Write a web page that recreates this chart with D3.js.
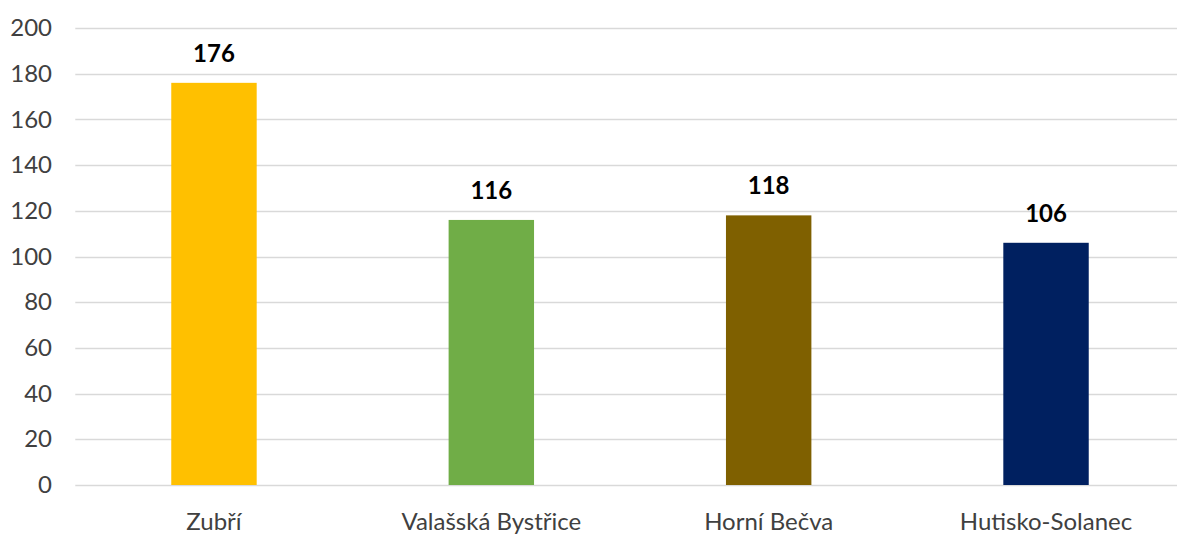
<!DOCTYPE html>
<html><head><meta charset="utf-8">
<script src="https://cdn.jsdelivr.net/npm/d3@7"></script>
<style>
html,body{margin:0;padding:0;background:#fff;}
svg{display:block;}
</style></head>
<body>
<svg id="c" width="1177" height="534"></svg>
<script>
const categories = ["Zubří", "Valašská Bystřice", "Horní Bečva", "Hutisko-Solanec"];
const values = [176, 116, 118, 106];
const colors = ["#FFC000", "#70AD47", "#7F6000", "#002060"];
const yTicks = [0, 20, 40, 60, 80, 100, 120, 140, 160, 180, 200];

const svg = d3.select("#c");
const font = "Lato, 'Open Sans', sans-serif";

const x = d3.scaleBand().domain(categories).range([75.3, 1184.7]).paddingInner(0.692).paddingOuter(0.346);
const y = d3.scaleLinear().domain([0, 200]).range([485, 28]);

// gridlines
svg.append("g").selectAll("line").data(yTicks).join("line")
  .attr("x1", 75.3).attr("x2", 1184.7)
  .attr("y1", d => Math.round(y(d)) + 0.5).attr("y2", d => Math.round(y(d)) + 0.5)
  .attr("stroke", "#D9D9D9").attr("stroke-width", 1.3);

// y axis labels
const yAxis = d3.axisLeft(y).tickValues(yTicks).tickSize(0).tickPadding(0).tickFormat(d3.format("d"));
const gy = svg.append("g").attr("transform", "translate(52,0)").call(yAxis);
gy.select(".domain").remove();
gy.selectAll("text").attr("font-family", font).attr("font-size", 24).attr("fill", "#404040");

// bars
svg.append("g").selectAll("rect").data(values).join("rect")
  .attr("x", (d, i) => x(categories[i]))
  .attr("width", x.bandwidth())
  .attr("y", d => y(d))
  .attr("height", d => y(0) - y(d))
  .attr("fill", (d, i) => colors[i]);

// data labels
svg.append("g").selectAll("text").data(values).join("text")
  .attr("x", (d, i) => x(categories[i]) + x.bandwidth() / 2)
  .attr("y", d => y(d) - 21)
  .attr("text-anchor", "middle")
  .attr("font-family", font).attr("font-weight", "bold").attr("font-size", 24)
  .attr("fill", "#000")
  .text(d => d);

// x axis labels
const xAxis = d3.axisBottom(x).tickSize(0).tickPadding(0);
const gx = svg.append("g").attr("transform", "translate(0,513)").call(xAxis);
gx.select(".domain").remove();
gx.selectAll("text").attr("font-family", font).attr("font-size", 24).attr("fill", "#404040");
</script>
</body></html>
